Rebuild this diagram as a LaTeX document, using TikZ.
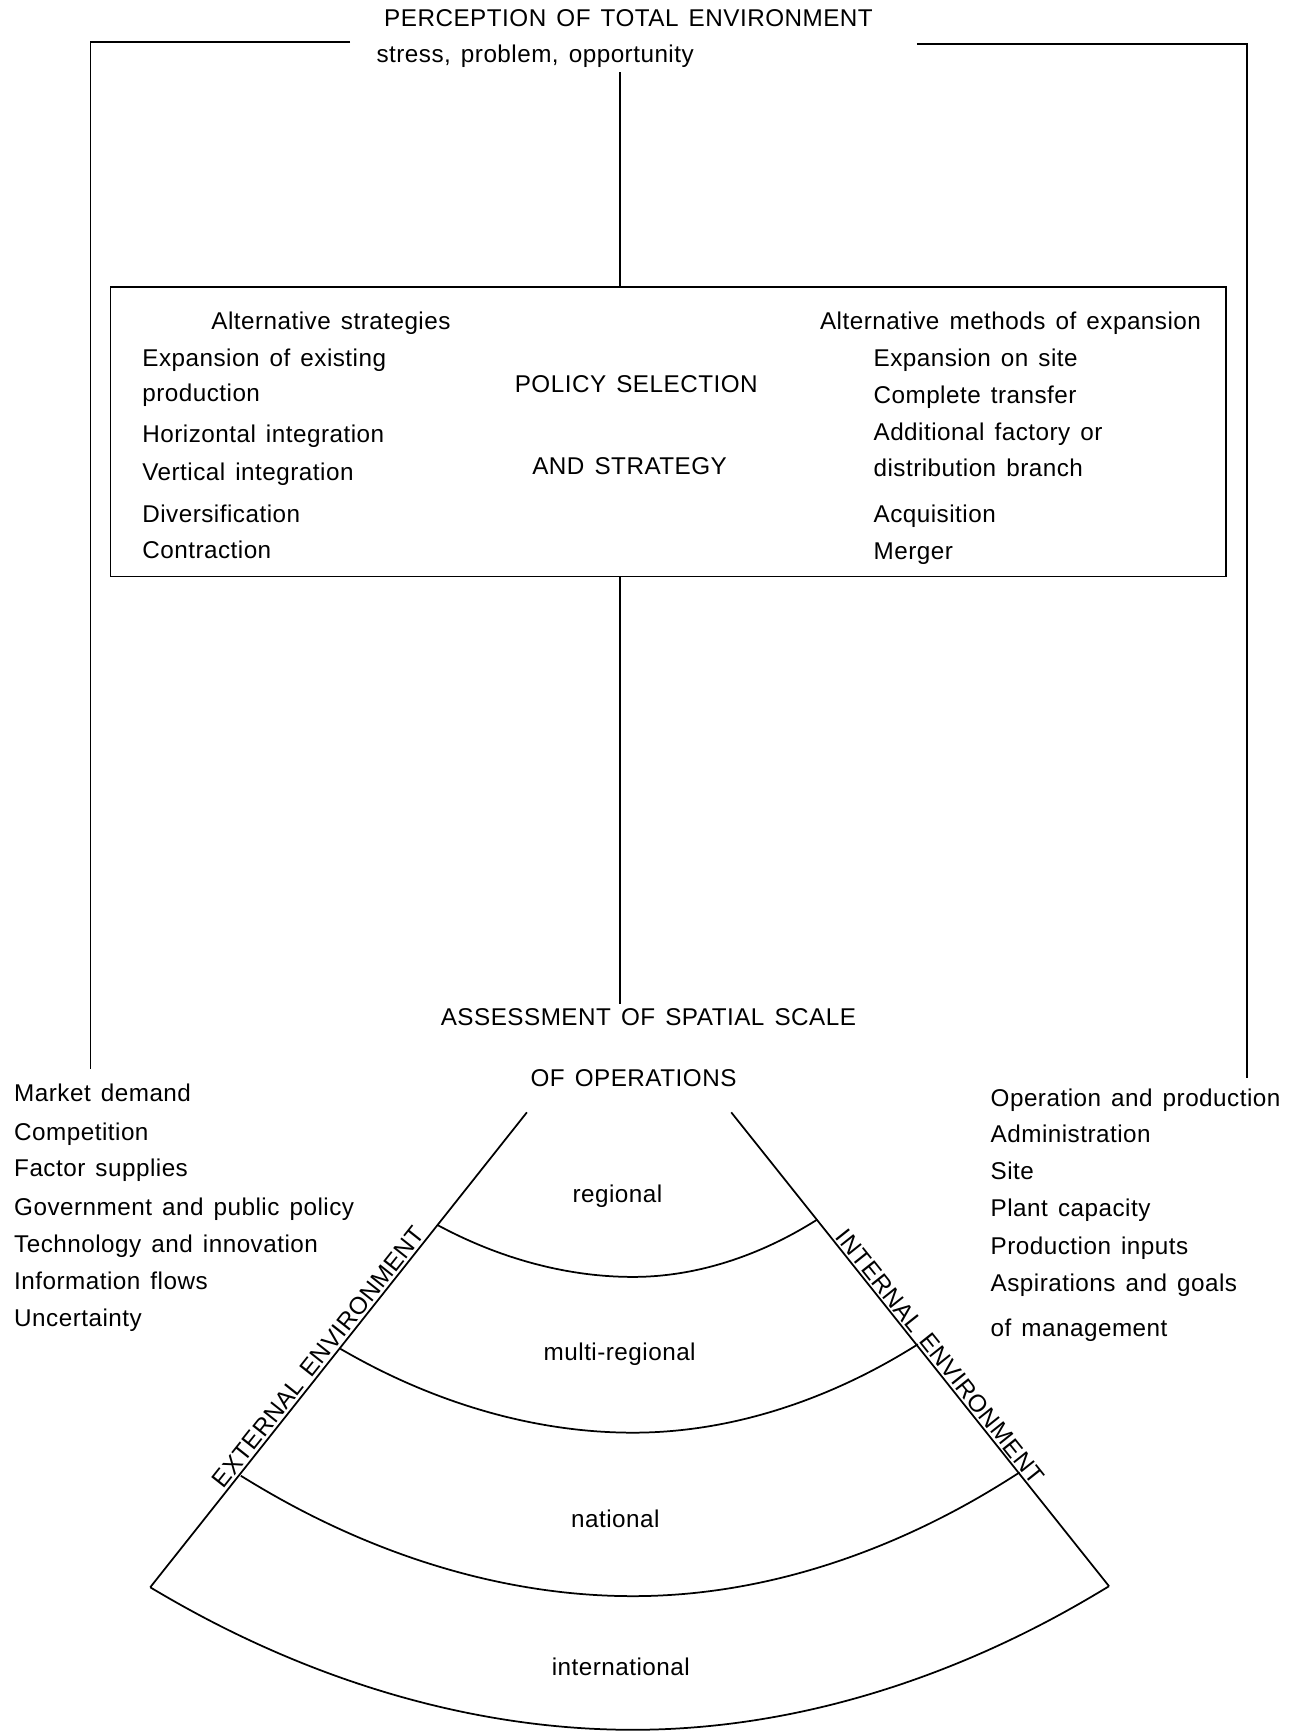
\documentclass[tikz,border=0pt]{standalone}
\usepackage{fontspec}
\setmainfont{Liberation Sans}[LetterSpace=2.0,WordSpace=1.4]
\tikzset{
  lbl/.style={font=\fontsize{12.5}{15}\selectfont, inner sep=2pt},
  itm/.style={lbl, anchor=base west},
  hd/.style={lbl, anchor=base},
  ln/.style={line width=0.9pt}
}

\begin{document}
\begin{tikzpicture}[x=0.02cm, y=-0.02cm]
\useasboundingbox (0,0) rectangle (1181,1568);
\node[hd] (title) at (569,24) {PERCEPTION OF TOTAL ENVIRONMENT};
\node[itm] (stress) at (337,57) {stress, problem, opportunity};
\coordinate (ltop) at (317,38);
\coordinate (lend) at (82,968);
\coordinate (rtop) at (830,40);
\coordinate (rend) at (1129,976);
\draw [ln] (ltop) -| (lend);
\draw [ln] (rtop) -| (rend);
\node[draw, ln, minimum width=20.2cm, minimum height=5.24cm, inner sep=0pt] (box) at (605,391) {};
\coordinate (spine) at (561.5,0);
\draw [ln] (spine |- stress.south) -- (spine |- box.north);
\node[itm] (alts) at (187.5,298) {Alternative strategies};
\foreach \t/\y [count=\i] in {Expansion of existing/331.8, production/363.5, Horizontal integration/400.6, Vertical integration/435, Diversification/472.7, Contraction/506}
\node[itm] (str\i) at (125,\y) {\t};
\node[hd] (pol) at (576,355.4) {POLICY SELECTION};
\node[hd] (strat) at (570,430) {AND STRATEGY};
\node[itm] (altm) at (738.5,298) {Alternative methods of expansion};
\foreach \t/\y [count=\i] in {Expansion on site/331.8, Complete transfer/365, Additional factory or/398.8, distribution branch/431.4, Acquisition/472.7, Merger/506.8}
\node[itm] (meth\i) at (787,\y) {\t};
\node[hd] (assess) at (587,928.5) {ASSESSMENT OF SPATIAL SCALE};
\node[hd] (assessb) at (573.5,983.4) {OF OPERATIONS};
\draw [ln] (spine |- box.south) -- (spine |- assess.north);
\foreach \t/\y [count=\i] in {Market demand/997.6, Competition/1032.3, Factor supplies/1065.4, Government and public policy/1100, Technology and innovation/1134.2, Information flows/1167.4, Uncertainty/1201.2}
\node[itm] (ext\i) at (9,\y) {\t};
\foreach \t/\y [count=\i] in {Operation and production/1001.5, Administration/1034.6, Site/1068, Plant capacity/1101.6, Production inputs/1135.7, Aspirations and goals/1169, of management/1209.6}
\node[itm] (int\i) at (893,\y) {\t};
\coordinate (lt) at (477,1007);
\coordinate (lb) at (136,1437);
\coordinate (rt) at (662,1007);
\coordinate (rb) at (1004,1436);
\draw [ln] (lt) -- node[lbl, sloped, above, pos=0.53, inner sep=1pt] (extenv) {EXTERNAL ENVIRONMENT} (lb);
\draw [ln] (rt) -- node[lbl, sloped, above, pos=0.53, inner sep=1pt] (intenv) {INTERNAL ENVIRONMENT} (rb);
\draw [ln] (396,1109) parabola bend (573,1156) (740,1104);
\draw [ln] (308,1221) parabola bend (573,1297) (831,1217);
\draw [ln] (218,1336) parabola bend (573,1445) (923,1333);
\draw [ln] (lb) parabola bend (573,1566) (rb);
\node[hd] (reg) at (559,1089) {regional};
\node[hd] (mreg) at (561,1232) {multi-regional};
\node[hd] (nat) at (557,1383) {national};
\node[hd] (intl) at (562,1517) {international};
\end{tikzpicture}
\end{document}
